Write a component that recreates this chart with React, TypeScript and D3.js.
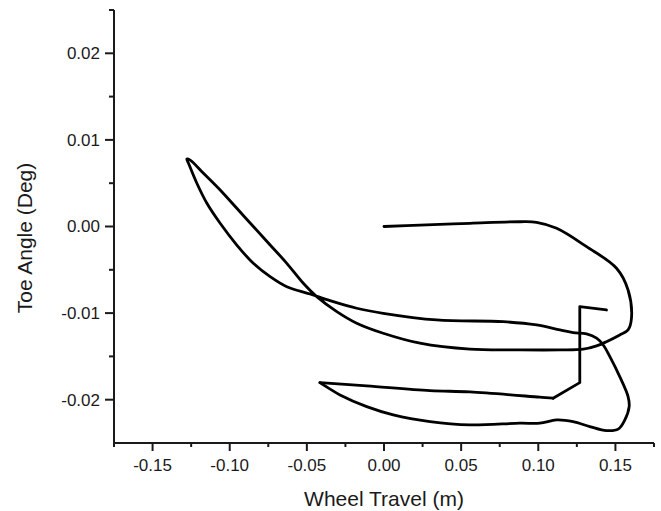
import React from "react";
import * as d3 from "d3";

const wheelTravel: number[] = [
  0.0, 0.0233, 0.0557, 0.0881, 0.0989, 0.1119, 0.1313, 0.1507, 0.1582, 0.1604,
  0.1582, 0.1528, 0.1442, 0.1378, 0.1291, 0.114, 0.0881, 0.0557, 0.0233,
  -0.0005, -0.0177, -0.0306, -0.0436, -0.0523, -0.063, -0.0738, -0.0847, -0.0954, -0.1062,
  -0.117, -0.1256, -0.1278, -0.1267, -0.1213, -0.1148, -0.1062, -0.0954, -0.0847, -0.0738,
  -0.063, -0.0479, -0.035, -0.0177, -0.0005, 0.0341, 0.0773, 0.0989, 0.114,
  0.1226, 0.1313, 0.1378, 0.1421, 0.1464, 0.1528, 0.1582, 0.1589, 0.1561, 0.1518,
  0.1442, 0.1334, 0.1226, 0.1119, 0.101, 0.0881, 0.0557, 0.0298, 0.006, -0.0112,
  -0.0285, -0.0393, -0.0415, -0.0112, 0.0298, 0.0557, 0.101, 0.1096, 0.1269, 0.1269,
  0.1442,
];

const toeAngle: number[] = [
  0.0, 0.00017, 0.00037, 0.00055, 0.00048, -0.00021, -0.00233, -0.00482, -0.00733, -0.01059,
  -0.01194, -0.01252, -0.0133, -0.01379, -0.01417, -0.01425, -0.01425, -0.01417, -0.01348,
  -0.01233, -0.01117, -0.00983, -0.0081, -0.00656, -0.00425, -0.00213, 0.0, 0.0021, 0.00421,
  0.00614, 0.00767, 0.0078, 0.0073, 0.00499, 0.00268, 0.00037, -0.00214, -0.00425, -0.00579,
  -0.00695, -0.00779, -0.00856, -0.00944, -0.01002, -0.01079, -0.01099, -0.01137, -0.01194,
  -0.01226, -0.01241, -0.0129, -0.01368, -0.01503, -0.01733, -0.01964, -0.0208, -0.02233, -0.0234,
  -0.02357, -0.0231, -0.02253, -0.02233, -0.02271, -0.02271, -0.02291, -0.02253, -0.02175, -0.0208,
  -0.01945, -0.01829, -0.01803, -0.01841, -0.01895, -0.0191, -0.01971, -0.01983, -0.01803, -0.00926,
  -0.00964,
];

const xMajorTicks: number[] = [-0.15, -0.1, -0.05, 0.0, 0.05, 0.1, 0.15];
const xMinorTicks: number[] = [-0.175, -0.125, -0.075, -0.025, 0.025, 0.075, 0.125, 0.175];
const yMajorTicks: number[] = [-0.02, -0.01, 0.0, 0.01, 0.02];
const yMinorTicks: number[] = [-0.015, -0.005, 0.005, 0.015, 0.025];

const xTitle = "Wheel Travel (m)";
const yTitle = "Toe Angle (Deg)";

export default function App() {
  const x = d3.scaleLinear().domain([-0.175, 0.175]).range([114, 654]);
  const y = d3.scaleLinear().domain([-0.025, 0.025]).range([443, 10]);
  const pts: [number, number][] = wheelTravel.map((v, i) => [v, toeAngle[i]]);
  const smooth = d3
    .line<[number, number]>()
    .x((d) => x(d[0]))
    .y((d) => y(d[1]))
    .curve(d3.curveCatmullRom.alpha(0.5));
  const straight = d3
    .line<[number, number]>()
    .x((d) => x(d[0]))
    .y((d) => y(d[1]))
    .curve(d3.curveLinear);
  // sharp corners: the bottom-left tip and the final step
  const tipIdx = wheelTravel.indexOf(d3.min(wheelTravel.slice(60)) as number, 60);
  const stepIdx = pts.length - 4;
  const d1 = smooth(pts.slice(0, tipIdx + 1)) || "";
  const d2 = smooth(pts.slice(tipIdx, stepIdx + 1)) || "";
  const d3p = straight(pts.slice(stepIdx)) || "";
  const font = "'Liberation Sans', Arial, sans-serif";
  const ink = "#1a1a1a";
  const x0 = x(-0.175);
  const y0 = y(-0.025);
  const fmt = (t: number) => t.toFixed(2);
  return (
    <svg
      width={661}
      height={511}
      style={{ position: "absolute", left: 0, top: 0, background: "#fff" }}
    >
      <rect x={0} y={0} width={661} height={511} fill="#fff" />
      <g fill="none" stroke="#000" strokeWidth={2.8} strokeLinejoin="round" strokeLinecap="round">
        <path d={d1} />
        <path d={d2} />
        <path d={d3p} />
      </g>
      <g stroke={ink} strokeWidth={2}>
        <line x1={x0} x2={x0} y1={y(0.025)} y2={y0 + 1} />
        <line x1={x0 - 1} x2={x(0.175)} y1={y0} y2={y0} />
        {yMajorTicks.map((t) => (
          <line key={"ym" + t} x1={x0 - 9} x2={x0} y1={y(t)} y2={y(t)} />
        ))}
        {yMinorTicks.map((t) => (
          <line key={"yn" + t} x1={x0 - 5} x2={x0} y1={y(t)} y2={y(t)} />
        ))}
        {xMajorTicks.map((t) => (
          <line key={"xm" + t} x1={x(t)} x2={x(t)} y1={y0} y2={y0 + 8} />
        ))}
        {xMinorTicks.map((t) => (
          <line key={"xn" + t} x1={x(t)} x2={x(t)} y1={y0} y2={y0 + 4} />
        ))}
      </g>
      <g fontFamily={font} fontSize={17} fill={ink}>
        {yMajorTicks.map((t) => (
          <text key={"yl" + t} x={100} y={y(t)} dy="0.35em" textAnchor="end">
            {fmt(t)}
          </text>
        ))}
        {xMajorTicks.map((t) => (
          <text key={"xl" + t} x={x(t)} y={471} textAnchor="middle">
            {fmt(t)}
          </text>
        ))}
      </g>
      <text x={x(0)} y={506} textAnchor="middle" fontFamily={font} fontSize={21} fill={ink}>
        {xTitle}
      </text>
      <text
        transform="translate(31.5,238) rotate(-90)"
        textAnchor="middle"
        fontFamily={font}
        fontSize={21}
        fill={ink}
      >
        {yTitle}
      </text>
    </svg>
  );
}
